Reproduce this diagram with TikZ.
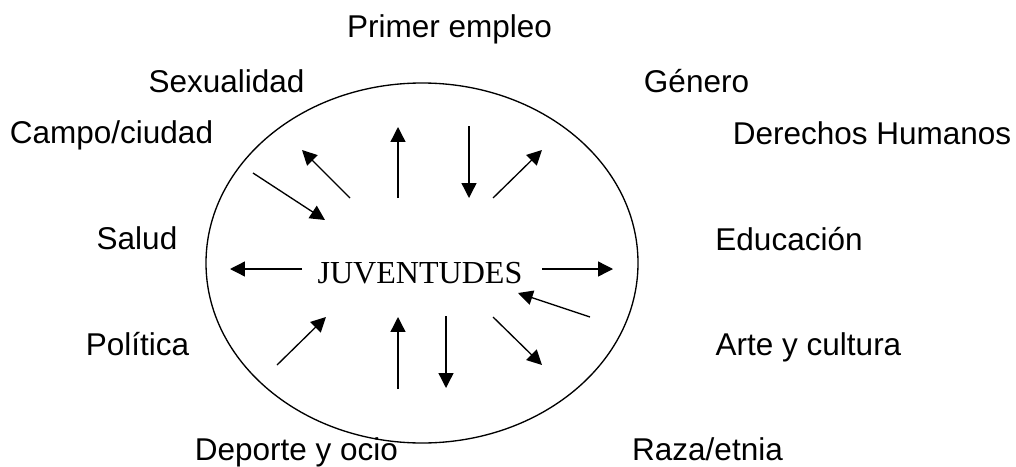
\documentclass[tikz,border=0pt]{standalone}
\usepackage{fontspec}
\setmainfont{Liberation Sans}
\newfontfamily\timesfont{Liberation Serif}
\usetikzlibrary{arrows.meta,calc,positioning}

\begin{document}
\begin{tikzpicture}[x=0.025cm, y=-0.025cm]
		\tikzstyle{every node}=[font=\fontsize{22.4}{26}\selectfont, inner sep=0pt, anchor=base]
		\tikzstyle{flecha}=[line width=0.95pt, -{Triangle[length=10.5pt,width=10.5pt]}]
		\useasboundingbox (0,0) rectangle (1016,466);
		% circulo central
		\draw [line width=0.95pt] (422,263) ellipse [x radius=216, y radius=180];
		\node (juv) [font=\timesfont\fontsize{22.8}{26}\selectfont] at (420,283) {JUVENTUDES};
		% temas alrededor
		\node (empleo) at (449.5,38) {Primer empleo};
		\node (sexo) at (226.5,92) {Sexualidad};
		\node (genero) at (696.5,92) {Género};
		\node (campo) at (111.5,143.5) {Campo/ciudad};
		\node (ddhh) at (872,144) {Derechos Humanos};
		\node (salud) at (137,249.5) {Salud};
		\node (educ) at (789,250) {Educación};
		\node (polit) at (137.5,355) {Política};
		\node (arte) at (808.5,355) {Arte y cultura};
		\node (deporte) at (296.5,460) {Deporte y ocio};
		\node (raza) at (707.5,460) {Raza/etnia};
		% flechas
		\foreach \a/\b/\c/\d in {253/173/325/220, 350/198/302/150, 398/198/398/127,
				469/126/469/198, 493/198/542/150, 302/269/230/269, 542/269/613/269,
				590/317/518/293, 277/365/326/317, 398/389/398/317, 446/316/446/388,
				493/317/542/365}
			\draw [flecha] (\a,\b) -- (\c,\d);
\end{tikzpicture}
\end{document}
